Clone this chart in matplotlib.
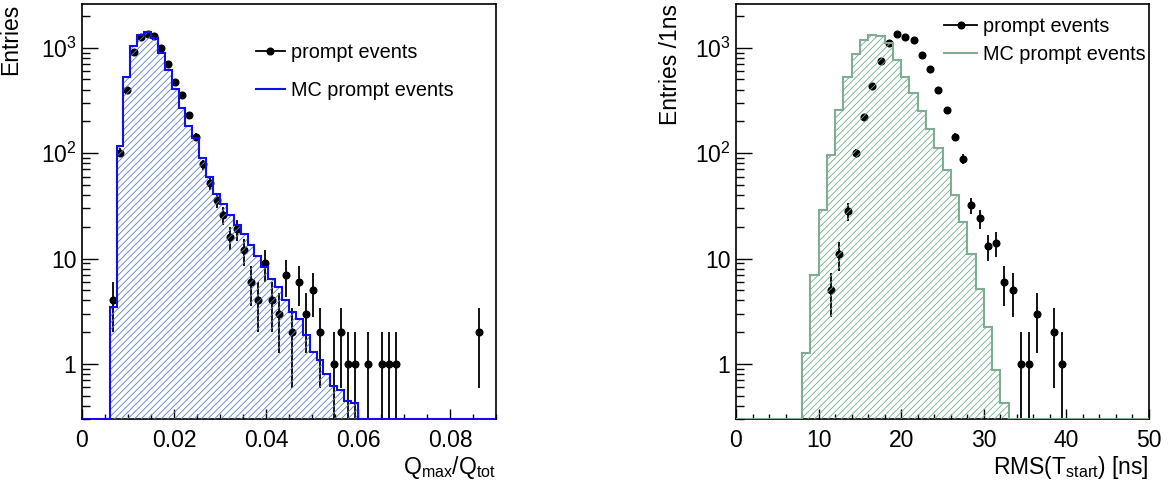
import numpy as np
import matplotlib
matplotlib.use("Agg")
import matplotlib.pyplot as plt
from matplotlib.lines import Line2D
from matplotlib.ticker import MultipleLocator, LogLocator, NullFormatter

plt.rcParams['font.family'] = ['Liberation Sans', 'DejaVu Sans']
plt.rcParams['mathtext.fontset'] = 'custom'
plt.rcParams['mathtext.rm'] = 'Liberation Sans'
plt.rcParams['mathtext.it'] = 'Liberation Sans:italic'
plt.rcParams['mathtext.bf'] = 'Liberation Sans:bold'
plt.rcParams['hatch.linewidth'] = 0.6

YMIN, YMAX = 0.3, 2600

# Qmax/Qtot : 60 bins of 0.0015 between 0 and 0.09
q_edges = np.linspace(0, 0.09, 61)
q_data = [0, 0, 0, 0, 4, 101, 395, 913, 1265, 1343,
          1285, 1004, 708, 478, 357, 228, 143, 78, 52, 36,
          26, 16, 19, 12, 6, 4, 9, 4, 3, 7,
          2, 6, 3, 5, 2, 0, 1, 2, 1, 1,
          0, 1, 0, 1, 1, 1, 0, 0, 0, 0,
          0, 0, 0, 0, 0, 0, 0, 2, 0, 0]
q_mc = [0, 0, 0, 0, 3.5, 117, 529, 1040, 1334, 1425,
        1250, 900, 612, 410, 269, 181, 140, 90, 60, 41,
        33, 26, 21, 17, 13.4, 10.6, 8.3, 6.4, 5.4, 4.0,
        3.1, 2.65, 1.9, 1.3, 1.1, 0.8, 0.62, 0.57, 0.44, 0.43,
        0, 0, 0, 0, 0, 0, 0, 0, 0, 0,
        0, 0, 0, 0, 0, 0, 0, 0, 0, 0]

# RMS(Tstart) : 50 bins of 1 ns
t_edges = np.linspace(0, 50, 51)
t_data = [0, 0, 0, 0, 0, 0, 0, 0, 0, 0,
          0, 5, 11, 28, 100, 221, 435, 750, 1097, 1343,
          1266, 1178, 862, 630, 398, 256, 143, 88, 32, 24,
          13, 14, 6, 5, 1, 1, 3, 0, 2, 1,
          0, 0, 0, 0, 0, 0, 0, 0, 0, 0]
t_mc = [0, 0, 0, 0, 0, 0, 0, 0, 1.26, 6.9,
        29, 97, 256, 522, 881, 1178, 1322, 1285, 1097, 773,
        529, 368, 252, 168, 111, 69, 40, 22, 11, 5.1,
        2.26, 0.88, 0.43, 0, 0, 0, 0, 0, 0, 0,
        0, 0, 0, 0, 0, 0, 0, 0, 0, 0]

legend_labels = ['prompt events', 'MC prompt events']


def draw_panel(ax, edges, data, mc, line_col, hatch_col):
    data = np.asarray(data, float)
    mc = np.asarray(mc, float)
    centers = 0.5 * (edges[1:] + edges[:-1])
    ok = data > 0
    n = data[ok]
    err = np.sqrt(n)
    lo = np.minimum(err, n - 1e-3)
    ax.errorbar(centers[ok], n, yerr=[lo, err], fmt='o', color='black',
                ms=4.8, elinewidth=1.3, capsize=0, zorder=2)
    h = np.maximum(mc, YMIN)
    ax.stairs(h, edges, baseline=YMIN, fill=True, facecolor='none',
              edgecolor=hatch_col, hatch='/////', linewidth=0, zorder=3)
    ax.stairs(h, edges, baseline=YMIN, color=line_col, linewidth=1.5, zorder=4)

    ax.set_yscale('log')
    ax.set_ylim(YMIN, YMAX)
    ax.set_xlim(edges[0], edges[-1])
    ax.set_yticks([1, 10, 100, 1000], ['1', '10', r'$10^{2}$', r'$10^{3}$'])
    ax.yaxis.set_minor_locator(LogLocator(subs=np.arange(2, 10)))
    ax.yaxis.set_minor_formatter(NullFormatter())
    ax.tick_params(axis='both', which='both', direction='in', labelsize=16.5,
                   top=False, right=False, width=1)
    ax.tick_params(axis='y', which='major', length=11.5, pad=4)
    ax.tick_params(axis='y', which='minor', length=5.8)
    ax.tick_params(axis='x', which='major', length=7, pad=7)
    ax.tick_params(axis='x', which='minor', length=3.6)
    for s in ax.spines.values():
        s.set_linewidth(1.2)

    handles = [Line2D([], [], color='black', marker='o', ms=4.8, lw=1.3),
               Line2D([], [], color=line_col, lw=1.5)]
    return handles


fig = plt.figure(figsize=(11.72, 4.92), dpi=100)

ax1 = fig.add_axes([82 / 1172, 73 / 492, 414 / 1172, 415 / 492])
hs = draw_panel(ax1, q_edges, q_data, q_mc, '#1010ee', '#5a7fc8')
ax1.xaxis.set_major_locator(MultipleLocator(0.02))
ax1.xaxis.set_minor_locator(MultipleLocator(0.005))
ax1.set_xticks([0, 0.02, 0.04, 0.06, 0.08], ['0', '0.02', '0.04', '0.06', '0.08'])
ax1.set_xlabel(r'Q$_{\mathrm{max}}$/Q$_{\mathrm{tot}}$', fontsize=16.5, loc='right')
ax1.xaxis.set_label_coords(1.0, -0.085)
ax1.set_ylabel('Entries', fontsize=16.5, loc='top')
ax1.yaxis.set_label_coords(-0.145, 1.0)
ax1.legend(hs, legend_labels, loc='upper left', bbox_to_anchor=(0.42, 0.905),
           frameon=False, fontsize=14.3, handlelength=1.46, handletextpad=0.3,
           labelspacing=0.95, borderpad=0, borderaxespad=0)

ax2 = fig.add_axes([736 / 1172, 73 / 492, 413 / 1172, 415 / 492])
hs = draw_panel(ax2, t_edges, t_data, t_mc, '#80ad92', '#6fb08c')
ax2.xaxis.set_major_locator(MultipleLocator(10))
ax2.xaxis.set_minor_locator(MultipleLocator(2))
ax2.set_xlabel(r'RMS(T$_{\mathrm{start}}$) [ns]', fontsize=16.5, loc='right')
ax2.xaxis.set_label_coords(1.0, -0.085)
ax2.set_ylabel('Entries /1ns', fontsize=16.5, loc='top')
ax2.yaxis.set_label_coords(-0.13, 1.0)
ax2.legend(hs, legend_labels, loc='upper left', bbox_to_anchor=(0.504, 0.969),
           frameon=False, fontsize=14.3, handlelength=1.65, handletextpad=0.3,
           labelspacing=0.44, borderpad=0, borderaxespad=0)

fig.savefig('out.png', dpi=100)
